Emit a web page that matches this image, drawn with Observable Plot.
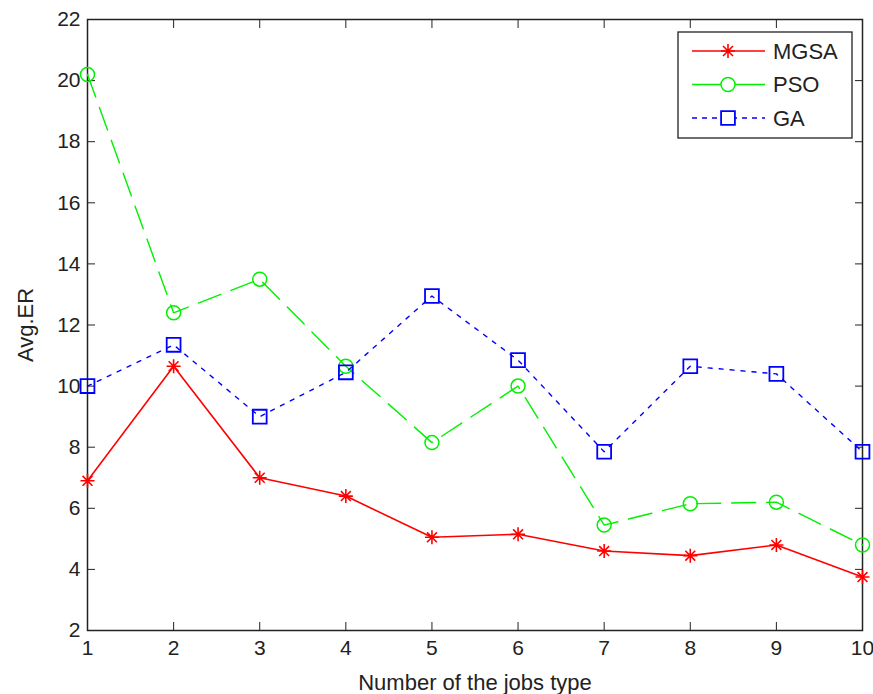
<!DOCTYPE html>
<html>
<head>
<meta charset="utf-8">
<script src="https://cdn.jsdelivr.net/npm/d3@7"></script>
<script src="https://cdn.jsdelivr.net/npm/@observablehq/plot@0.6"></script>
<style>
  html, body { margin: 0; padding: 0; background: #fff; }
  #chart { position: relative; width: 873px; height: 694px; }
  svg { font-family: "Liberation Sans", Arial, sans-serif; }
</style>
</head>
<body>
<div id="chart"></div>
<script>
const jobs = [1, 2, 3, 4, 5, 6, 7, 8, 9, 10];
const mgsa = [6.9, 10.65, 7.0, 6.4, 5.05, 5.15, 4.6, 4.45, 4.8, 3.75];
const pso  = [20.2, 12.4, 13.5, 10.65, 8.15, 10.0, 5.45, 6.15, 6.2, 4.8];
const ga   = [10.0, 11.35, 9.0, 10.45, 12.95, 10.85, 7.85, 10.65, 10.4, 7.85];
const xTicks = [1, 2, 3, 4, 5, 6, 7, 8, 9, 10];
const yTicks = [2, 4, 6, 8, 10, 12, 14, 16, 18, 20, 22];
const seriesNames = ["MGSA", "PSO", "GA"];
const seriesValues = [mgsa, pso, ga];

const star = {
  draw(ctx, size) {
    const r = Math.sqrt(size / Math.PI);
    const d = r * Math.SQRT1_2;
    ctx.moveTo(-r, 0); ctx.lineTo(r, 0);
    ctx.moveTo(0, -r); ctx.lineTo(0, r);
    ctx.moveTo(-d, -d); ctx.lineTo(d, d);
    ctx.moveTo(-d, d); ctx.lineTo(d, -d);
  }
};

const styles = {
  MGSA: {color: "#ff0000", dash: null, width: 1.6, symbol: star, r: 7, sw: 1.6},
  PSO:  {color: "#00f000", dash: "24,11", width: 1.4, symbol: "circle", r: 7, sw: 1.5},
  GA:   {color: "#0000ff", dash: "4,7", width: 1.4, symbol: "square", r: 7.8, sw: 1.8}
};

const rows = [];
seriesNames.forEach((s, i) => jobs.forEach((j, k) => rows.push({series: s, x: j, y: seriesValues[i][k]})));

const ink = "#222";
const marks = [
  Plot.frame({stroke: ink, strokeWidth: 1.5}),
  Plot.axisX({ticks: xTicks, anchor: "bottom", tickSize: -8, tickPadding: 18, fontSize: 21, color: ink,
    label: null}),
  Plot.axisX({ticks: [], anchor: "bottom", tickSize: 0, fontSize: 22, color: ink,
    label: "Number of the jobs type", labelAnchor: "center", labelArrow: "none", labelOffset: 59}),
  Plot.axisX({ticks: xTicks, anchor: "top", tickSize: -8, tickFormat: () => "", label: null, color: ink}),
  Plot.axisY({ticks: yTicks, anchor: "left", tickSize: -8, tickPadding: 15, fontSize: 21, color: ink, label: null}),
  Plot.axisY({ticks: [], anchor: "left", tickSize: 0, fontSize: 22, color: ink,
    label: "Avg.ER", labelAnchor: "center", labelArrow: "none", labelOffset: 70}),
  Plot.axisY({ticks: yTicks, anchor: "right", tickSize: -8, tickFormat: () => "", label: null, color: ink})
];
for (const s of seriesNames) {
  const st = styles[s];
  const data = rows.filter(d => d.series === s);
  marks.push(Plot.line(data, {x: "x", y: "y", stroke: st.color, strokeWidth: st.width, strokeDasharray: st.dash}));
}
for (const s of seriesNames) {
  const st = styles[s];
  const data = rows.filter(d => d.series === s);
  marks.push(Plot.dot(data, {x: "x", y: "y", symbol: st.symbol, r: st.r, stroke: st.color, strokeWidth: st.sw, fill: "none"}));
}

const plot = Plot.plot({
  width: 873,
  height: 694,
  marginLeft: 87,
  marginRight: 11,
  marginTop: 19,
  marginBottom: 64,
  x: {domain: [1, 10]},
  y: {domain: [2, 22]},
  style: {fontFamily: "'Liberation Sans', Arial, sans-serif", fontSize: "21px", color: ink, background: "#fff"},
  marks
});
document.getElementById("chart").appendChild(plot);

// Legend inside plot, top-right (MATLAB-style box)
const svg = d3.select(plot);
const lg = svg.append("g").attr("class", "legend").attr("text-anchor", "start");
const box = {x: 678, y: 32, w: 174, h: 106};
lg.append("rect").attr("x", box.x).attr("y", box.y).attr("width", box.w).attr("height", box.h)
  .attr("fill", "#fff").attr("stroke", ink).attr("stroke-width", 1.3);
seriesNames.forEach((s, i) => {
  const st = styles[s];
  const cy = box.y + 19 + i * 33.5;
  lg.append("line").attr("x1", box.x + 14).attr("x2", box.x + 87).attr("y1", cy).attr("y2", cy)
    .attr("stroke", st.color).attr("stroke-width", st.width)
    .attr("stroke-dasharray", s === "GA" ? "5,5" : null);
  lg.append("path").attr("transform", `translate(${box.x + 50},${cy})`)
    .attr("d", d3.symbol().type(st.symbol === "circle" ? d3.symbolCircle : st.symbol === "square" ? d3.symbolSquare : st.symbol).size(Math.PI * st.r * st.r)())
    .attr("fill", s === "MGSA" ? "none" : "#fff").attr("stroke", st.color).attr("stroke-width", st.sw);
  lg.append("text").attr("x", box.x + 95).attr("y", cy).attr("dy", "0.36em")
    .attr("text-anchor", "start").attr("font-size", 22).attr("fill", ink).text(s);
});
</script>
</body>
</html>
